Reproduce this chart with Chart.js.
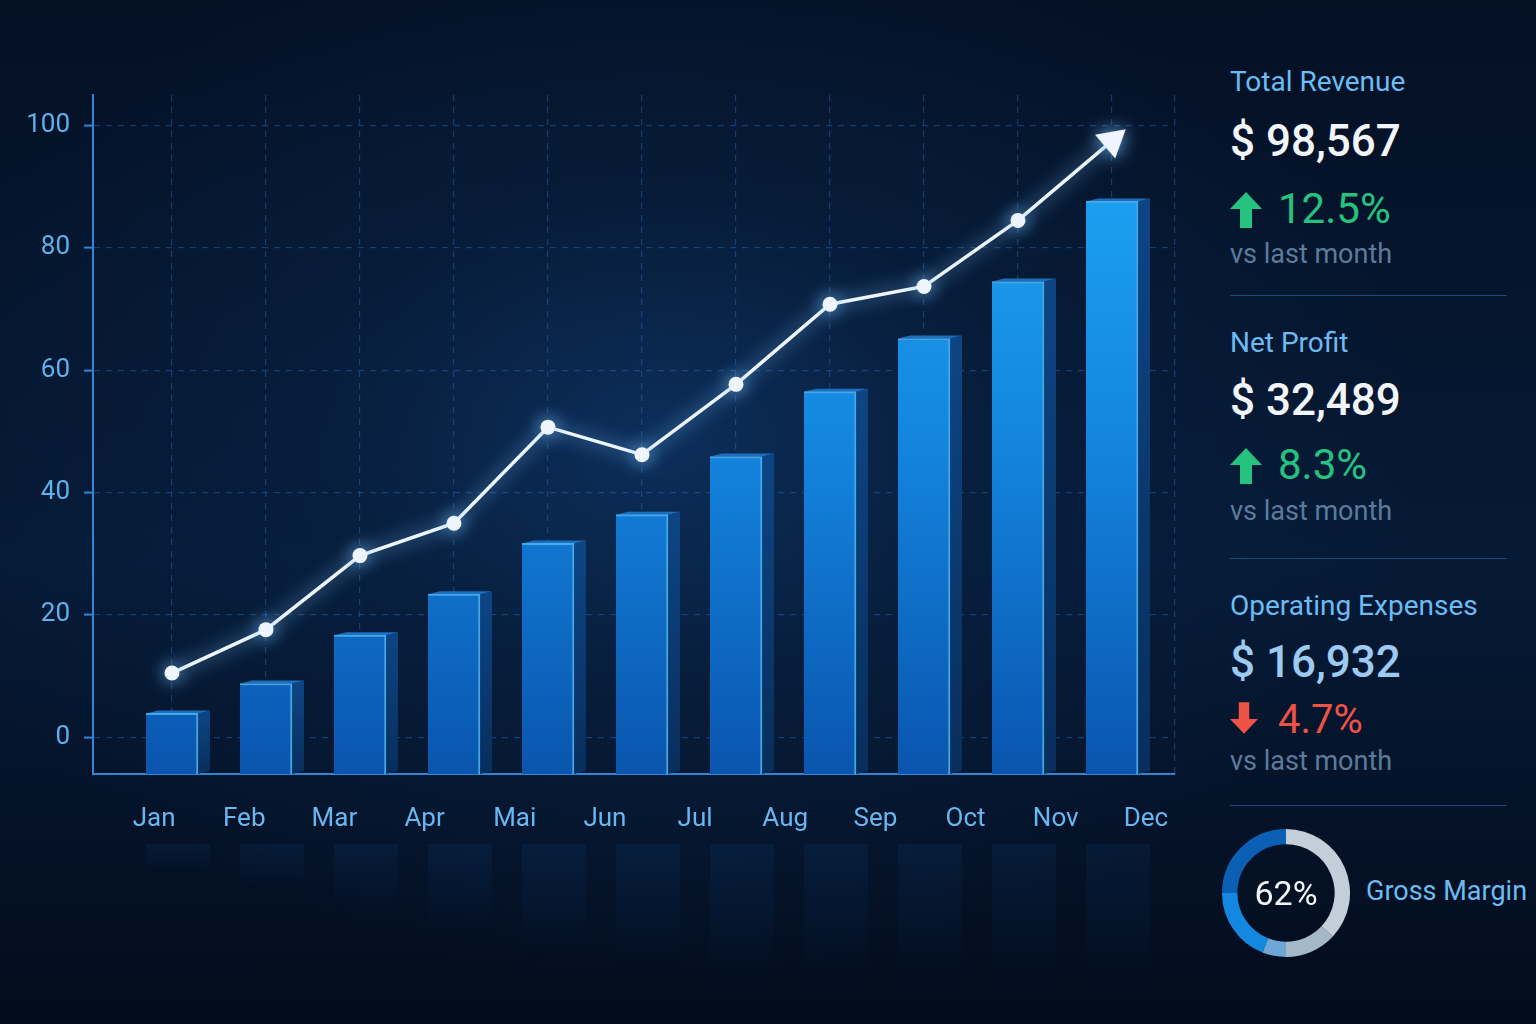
<!DOCTYPE html>
<html>
<head>
<meta charset="utf-8">
<script src="https://cdn.jsdelivr.net/npm/chart.js@4.4.1/dist/chart.umd.min.js"></script>
<style>
  html, body { margin:0; padding:0; width:1536px; height:1024px; overflow:hidden; }
  body {
    font-family: Roboto, "Noto Sans", sans-serif;
    background:
      radial-gradient(ellipse 760px 540px at 660px 440px, rgba(14,52,100,0.8) 0%, rgba(9,34,68,0.55) 45%, rgba(4,14,30,0) 100%),
      linear-gradient(180deg, #041024 0%, #061a36 55%, #030c1c 100%);
    position: relative;
  }
  #main { position:absolute; left:0; top:0; width:1200px; height:1024px; }
  #donutBox { position:absolute; left:1222px; top:829px; width:128px; height:128px; }
  .t { position:absolute; left:1230px; line-height:1; white-space:nowrap; }
  .lbl { font-size:28px; color:#6cbcf2; }
  .val { font-size:44px; color:#f2f6fa; font-weight:500; }
  .up { font-size:42px; color:#26c27f; }
  .down { font-size:40px; color:#ee5246; }
  .sub { font-size:27px; color:#5c7b9b; }
  .div { position:absolute; left:1230px; width:277px; height:1px; background:#1b4a7c; }
  .chg svg { position:absolute; left:0; }
  .chg span { position:absolute; left:48px; top:0; }
  #center { position:absolute; left:1222px; top:829px; width:128px; height:128px; display:flex; align-items:center; justify-content:center; font-size:34px; color:#f4f7fb; }
  #gm { position:absolute; left:1366px; top:878px; font-size:27px; color:#6cbcf2; white-space:nowrap; line-height:1; }
</style>
</head>
<body>
<div id="main"><canvas id="chart"></canvas></div>

<div class="t lbl" style="top:68px">Total Revenue</div>
<div class="t val" style="top:119px">$ 98,567</div>
<div class="t up chg" style="top:188px;width:200px;height:42px">
  <svg width="32" height="36" viewBox="0 0 32 36" style="top:4px"><path d="M16 0 L32 17 L22 17 L22 36 L10 36 L10 17 L0 17 Z" fill="#26c27f"/></svg>
  <span>12.5%</span></div>
<div class="t sub" style="top:241px">vs last month</div>
<div class="div" style="top:295px"></div>

<div class="t lbl" style="top:329px">Net Profit</div>
<div class="t val" style="top:378px">$ 32,489</div>
<div class="t up chg" style="top:444px;width:200px;height:42px">
  <svg width="32" height="36" viewBox="0 0 32 36" style="top:4px"><path d="M16 0 L32 17 L22 17 L22 36 L10 36 L10 17 L0 17 Z" fill="#26c27f"/></svg>
  <span>8.3%</span></div>
<div class="t sub" style="top:498px">vs last month</div>
<div class="div" style="top:558px"></div>

<div class="t lbl" style="top:592px">Operating Expenses</div>
<div class="t val" style="top:640px;color:#9ccaf0">$ 16,932</div>
<div class="t down chg" style="top:700px;width:200px;height:42px">
  <svg width="28" height="32" viewBox="0 0 32 36" style="top:2px"><path d="M16 36 L32 19 L22 19 L22 0 L10 0 L10 19 L0 19 Z" fill="#ee5246"/></svg>
  <span>4.7%</span></div>
<div class="t sub" style="top:748px">vs last month</div>
<div class="div" style="top:805px"></div>

<div id="donutBox"><canvas id="donut"></canvas></div>
<div id="center">62%</div>
<div id="gm">Gross Margin</div>

<script>
// ---- data ----
const months = ['Jan','Feb','Mar','Apr','Mai','Jun','Jul','Aug','Sep','Oct','Nov','Dec'];
const barValues = [3.9, 8.8, 16.7, 23.4, 31.7, 36.4, 45.9, 56.5, 65.2, 74.5, 87.6];
const lineValues = [10.5, 17.6, 29.7, 35.0, 50.7, 46.2, 57.7, 70.8, 73.7, 84.5, 97.5];
const yTicks = [0, 20, 40, 60, 80, 100];
const donutValues = [37, 13, 6, 19, 25];
const donutColors = ['#c3ceda', '#a4b8ca', '#6ea6d8', '#1488e0', '#0b5fb5'];

const Y_MIN = -6, Y_MAX = 105;
const barPoints = barValues.map((v, i) => ({ x: i, y: v }));
const linePoints = lineValues.map((v, i) => ({ x: i, y: v }));
const LAST = lineValues.length - 1;

const depthPlugin = {
  id: 'depth',
  beforeDatasetDraw(chart, args) {
    const ctx = chart.ctx;
    if (args.index === 0) {
      const meta = chart.getDatasetMeta(0);
      ctx.save();
      meta.data.forEach(el => {
        const p = el.getProps(['x', 'y', 'width', 'base'], true);
        const l = p.x - p.width / 2, r = p.x + p.width / 2, d = 12;
        // faint floor reflection
        const top = p.base + 70;
        const h = Math.min((p.base - p.y) * 0.5, 150);
        const rg = ctx.createLinearGradient(0, top, 0, top + h);
        rg.addColorStop(0, 'rgba(30,120,220,0.09)');
        rg.addColorStop(1, 'rgba(30,120,220,0)');
        ctx.fillStyle = rg;
        ctx.fillRect(l, top, p.width + d, h);
        // side face
        const sg = ctx.createLinearGradient(0, p.y, 0, p.base);
        sg.addColorStop(0, '#0d4584');
        sg.addColorStop(1, '#082e5c');
        ctx.fillStyle = sg;
        ctx.beginPath();
        ctx.moveTo(r, p.y);
        ctx.lineTo(r + d, p.y - 3);
        ctx.lineTo(r + d, p.base - 3);
        ctx.lineTo(r, p.base);
        ctx.closePath();
        ctx.fill();
        // top face
        ctx.fillStyle = '#1a6fc0';
        ctx.beginPath();
        ctx.moveTo(l, p.y);
        ctx.lineTo(l + d, p.y - 3);
        ctx.lineTo(r + d, p.y - 3);
        ctx.lineTo(r, p.y);
        ctx.closePath();
        ctx.fill();
      });
      ctx.restore();
    } else {
      ctx.save();
      ctx.shadowColor = 'rgba(120,195,255,0.95)';
      ctx.shadowBlur = 18;
    }
  },
  afterDatasetDraw(chart, args) {
    if (args.index !== 0) chart.ctx.restore();
  }
};

new Chart(document.getElementById('chart'), {
  type: 'bar',
  data: {
    datasets: [
      {
        type: 'bar',
        data: barPoints,
        order: 1,
        base: Y_MIN,
        barThickness: 52,
        backgroundColor: (c) => {
          const a = c.chart.chartArea;
          if (!a) return '#1590e6';
          const g = c.chart.ctx.createLinearGradient(0, a.top, 0, a.bottom);
          g.addColorStop(0, '#1eaaf6');
          g.addColorStop(0.5, '#1486e0');
          g.addColorStop(1, '#0a55ae');
          return g;
        },
        borderColor: 'rgba(80,190,255,0.85)',
        borderWidth: { top: 2, right: 2, left: 0, bottom: 0 },
        borderSkipped: false
      },
      {
        type: 'line',
        data: linePoints,
        order: 0,
        borderColor: '#eef5ff',
        borderWidth: 3.5,
        tension: 0,
        pointBackgroundColor: '#eef5ff',
        pointBorderColor: '#eef5ff',
        pointBorderWidth: 0,
        pointStyle: (c) => c.dataIndex === LAST ? 'triangle' : 'circle',
        pointRadius: (c) => c.dataIndex === LAST ? 18 : 7.5,
        pointRotation: (c) => {
          if (c.dataIndex !== LAST) return 0;
          const xs = c.chart.scales.x, ys = c.chart.scales.y;
          if (!xs || !ys) return 52;
          const dx = xs.getPixelForValue(LAST) - xs.getPixelForValue(LAST - 1);
          const dy = ys.getPixelForValue(lineValues[LAST]) - ys.getPixelForValue(lineValues[LAST - 1]);
          return 90 + Math.atan2(dy, dx) * 180 / Math.PI;
        }
      }
    ]
  },
  options: {
    responsive: true,
    maintainAspectRatio: false,
    animation: false,
    devicePixelRatio: 1,
    layout: { padding: { top: 95, right: 25, left: 0, bottom: 0 } },
    plugins: { legend: { display: false }, tooltip: { enabled: false } },
    scales: {
      x: {
        type: 'linear',
        position: 'bottom',
        offset: false,
        min: -0.84,
        max: 10.67,
        ticks: { display: false, stepSize: 1 },
        grid: { offset: false, color: 'rgba(38,108,190,0.45)', lineWidth: 1.2, drawTicks: false },
        border: { display: true, color: '#2f86d6', width: 2, dash: [6, 6] },
        afterFit: (s) => { s.height = 0; }
      },
      x2: {
        type: 'category',
        labels: months,
        position: 'bottom',
        offset: true,
        grid: { display: false },
        border: { display: false },
        ticks: { color: '#6ab6f0', font: { family: 'Roboto', size: 26 }, padding: 22, labelOffset: 16, maxRotation: 0, autoSkip: false },
        afterFit: (s) => { s.height = 250; }
      },
      y: {
        min: Y_MIN,
        max: Y_MAX,
        afterBuildTicks: (s) => { s.ticks = yTicks.map(v => ({ value: v })); },
        ticks: { color: '#5fb0ec', font: { family: 'Roboto', size: 26 }, padding: 14 },
        grid: { color: 'rgba(38,108,190,0.45)', lineWidth: 1.2, tickLength: 9, tickColor: '#2f86d6', tickWidth: 2, tickBorderDash: [] },
        border: { display: true, color: '#2f86d6', width: 2, dash: [6, 6] },
        afterFit: (s) => { s.width = 93; }
      }
    }
  },
  plugins: [depthPlugin]
});

new Chart(document.getElementById('donut'), {
  type: 'doughnut',
  data: { labels: ['a','b','c','d','e'], datasets: [{ data: donutValues, backgroundColor: donutColors, borderWidth: 0 }] },
  options: {
    responsive: true, maintainAspectRatio: false, animation: false, devicePixelRatio: 1,
    cutout: '76%',
    plugins: { legend: { display: false }, tooltip: { enabled: false } }
  }
});
</script>
</body>
</html>
